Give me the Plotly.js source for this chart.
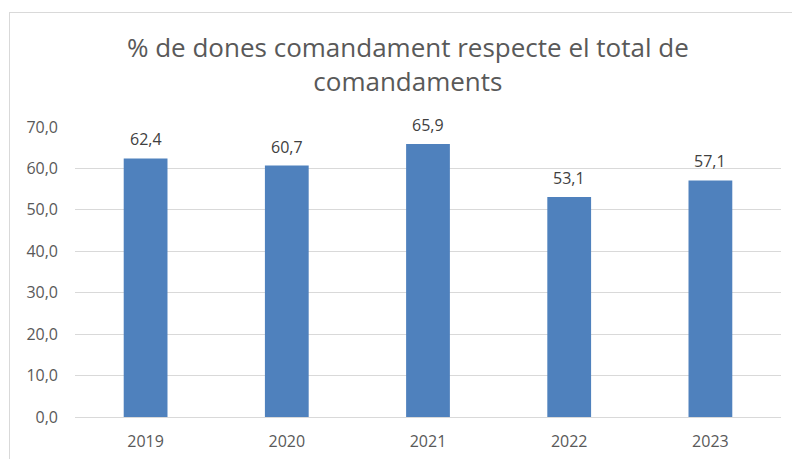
<!DOCTYPE html>
<html>
<head>
<meta charset="utf-8">
<script src="https://cdn.plot.ly/plotly-3.0.1.min.js"></script>
<style>
  html, body { margin: 0; padding: 0; background: #ffffff; }
  #wrap { position: relative; width: 792px; height: 459px; overflow: hidden; }
  #frame { position: absolute; left: 9px; top: 12px; width: 900px; height: 600px; border: 1px solid #d9d9d9; box-sizing: border-box; }
  #chart { position: absolute; left: 0; top: 0; width: 792px; height: 459px; }
</style>
</head>
<body>
<div id="wrap">
  <div id="frame"></div>
  <div id="chart"></div>
</div>
<script>
const years = ['2019', '2020', '2021', '2022', '2023'];
const values = [62.4, 60.7, 65.9, 53.1, 57.1];
const yTicks = [0, 10, 20, 30, 40, 50, 60, 70];
const titleText = '% de dones comandament respecte el total de<br>comandaments';

const font = '"Open Sans", sans-serif';

const trace = {
  type: 'bar',
  x: years,
  y: values,
  marker: { color: '#4f81bd', line: { width: 0 } },
  hoverinfo: 'x+y'
};

const annotations = years.map((yr, i) => ({
  x: i,
  y: values[i],
  xref: 'x',
  yref: 'y',
  text: values[i].toFixed(1).replace('.', ','),
  showarrow: false,
  yanchor: 'bottom',
  yshift: 6,
  font: { family: font, size: 16, color: '#404040' }
}));

const layout = {
  width: 792,
  height: 459,
  paper_bgcolor: 'rgba(0,0,0,0)',
  plot_bgcolor: 'rgba(0,0,0,0)',
  separators: ',.',
  margin: { l: 75, r: 11, t: 127, b: 42, pad: 0 },
  bargap: 0.69,
  showlegend: false,
  font: { family: font, color: '#595959' },
  title: {
    text: titleText,
    font: { family: font, size: 26, color: '#595959' },
    x: 0.515,
    xanchor: 'center',
    y: 0.875,
    yanchor: 'top'
  },
  xaxis: {
    type: 'category',
    range: [-0.5, 4.5],
    tickfont: { family: font, size: 16, color: '#595959' },
    showgrid: false,
    showline: false,
    ticks: '',
    ticklabelstandoff: 13,
    fixedrange: true
  },
  yaxis: {
    range: [0, 70],
    tickvals: yTicks,
    tickformat: '.1f',
    tickfont: { family: font, size: 16, color: '#595959' },
    showgrid: true,
    gridcolor: '#d9d9d9',
    gridwidth: 1,
    zeroline: true,
    zerolinecolor: '#d9d9d9',
    zerolinewidth: 1,
    showline: false,
    ticks: '',
    ticklabelstandoff: 16,
    fixedrange: true
  },
  annotations: annotations
};

Plotly.newPlot('chart', [trace], layout, { displayModeBar: false, staticPlot: true });
</script>
</body>
</html>
